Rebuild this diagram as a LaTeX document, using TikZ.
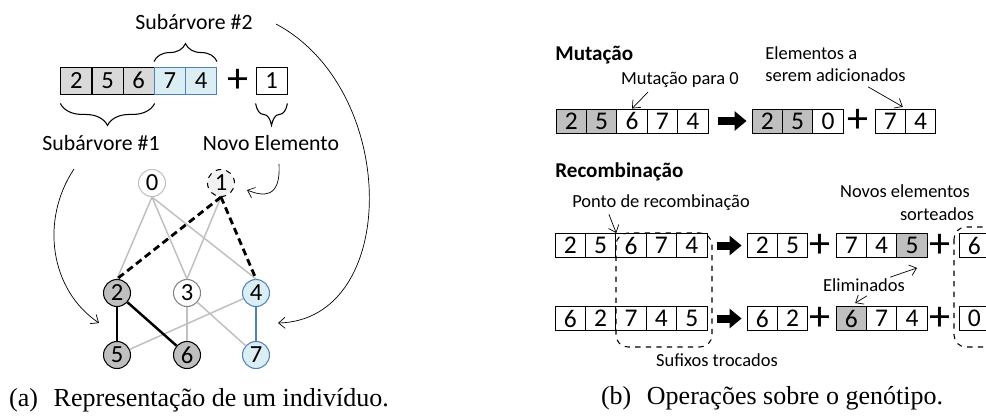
\documentclass[tikz,border=0pt]{standalone}
\usepackage{fontspec}
\setmainfont{Carlito}
\newfontfamily\capfont{Liberation Serif}
\usetikzlibrary{arrows.meta,decorations.pathreplacing,positioning}

\definecolor{cellgray}{HTML}{D9D9D9}
\definecolor{nodegray}{HTML}{BFBFBF}
\definecolor{lightblue}{HTML}{DBEEF4}
\definecolor{blueline}{HTML}{4F81BD}
\definecolor{edgegray}{HTML}{C0C0C0}

\tikzset{
    cell/.style={draw, line width=0.5pt, minimum width=0.62cm, minimum height=0.54cm, inner sep=0pt, font=\fontsize{14}{14}\selectfont},
    rcell/.style={draw, line width=0.5pt, minimum width=0.608cm, minimum height=0.48cm, inner sep=0pt, font=\fontsize{14.5}{14.5}\selectfont},
    vert/.style={shape=circle, draw, line width=0.6pt, minimum size=0.54cm, inner sep=0pt, font=\fontsize{14}{14}\selectfont},
    plus/.style={inner sep=0pt, font=\fontsize{24}{24}\selectfont},
    lbl/.style={inner sep=0pt, font=\fontsize{12.4}{13}\selectfont},
    note/.style={inner sep=0pt, font=\fontsize{10.5}{12.5}\selectfont},
    head/.style={inner sep=0pt, font=\fontsize{12}{13}\selectfont\bfseries},
    caption/.style={inner sep=0pt, font=\capfont\fontsize{14.8}{15}\selectfont},
    pointer/.style={line width=0.4pt, -{Straight Barb[length=0.13cm,width=0.22cm]}},
    fatarrow/.style={line width=0.16cm, -{Triangle[length=0.24cm,width=0.38cm]}, shorten <=0.2cm, shorten >=0.1cm},
    gedge/.style={edgegray, line width=0.85pt},
    brace/.style={decorate, line width=0.6pt},
    swapbox/.style={draw, dashed, line width=0.6pt, rounded corners=0.24cm}
}

\begin{document}
\begin{tikzpicture}[x=0.02cm, y=-0.02cm]
    \clip (0,0) rectangle (986,416);

    % (a) individuo
    \node[cell, fill=cellgray] (a1) at (76.3,80.5) {2};
    \node[cell, fill=cellgray] (a2) at (107.5,80.5) {5};
    \node[cell, fill=cellgray] (a3) at (138.7,80.5) {6};
    \node[cell, draw=blueline, fill=lightblue] (a4) at (169.9,80.5) {7};
    \node[cell, draw=blueline, fill=lightblue] (a5) at (201.1,80.5) {4};
    \node[plus] (aplus) at (238,81) {+};
    \node[cell] (anew) at (271.5,80.5) {1};

    \draw[brace, decoration={brace, amplitude=0.36cm, raise=0.1cm}] (a4.north west) -- (a5.north east);
    \draw[brace, decoration={brace, amplitude=0.44cm, raise=0.18cm}] (a3.south east) -- (a1.south west);
    \draw[brace, decoration={brace, amplitude=0.44cm, raise=0.18cm}] (anew.south east) -- (anew.south west);

    \node[lbl] (sub2) at (194,22) {Subárvore \#2};
    \node[lbl] (sub1) at (101,143) {Subárvore \#1};
    \node[lbl] (novo) at (271,143) {Novo Elemento};

    \node[vert, draw=nodegray] (0) at (152,183) {0};
    \node[vert, dashed, fill=black!5] (1) at (221,183) {1};
    \node[vert, fill=nodegray] (2) at (117,293) {2};
    \node[vert, draw=black!50] (3) at (187,293) {3};
    \node[vert, draw=blueline, fill=lightblue] (4) at (256,293) {4};
    \node[vert, fill=nodegray] (5) at (117,355) {5};
    \node[vert, fill=nodegray] (6) at (187,355) {6};
    \node[vert, draw=blueline, fill=lightblue] (7) at (256,355) {7};

    \path[gedge] (0.south) edge (2.north);
    \path[gedge] (0.south) edge (3.north);
    \path[gedge] (0.south) edge (4.north);
    \path[gedge] (1.south) edge (3.north);
    \path[gedge] (4) edge (5);
    \path[gedge] (3) edge (6);
    \path[gedge] (3) edge (7);
    \path[line width=1.6pt, dash pattern=on 4pt off 2.4pt] (1.south) edge (2.north);
    \path[line width=1.6pt, dash pattern=on 4pt off 2.4pt] (1.south) edge (4.north);
    \path[line width=1.4pt] (2) edge (5);
    \path[line width=1.4pt] (2) edge (6);
    \path[line width=1.4pt, blueline] (4) edge (7);

    \coordinate (t1) at (99,323);
    \coordinate (t2) at (278,323);
    \coordinate (t3) at (247,190);
    \draw[pointer] (sub1.south) ++(-27,18) .. controls (40,220) and (50,290) .. (t1);
    \draw[pointer] (sub2.east) ++(23,2) .. controls (400,90) and (400,320) .. (t2);
    \draw[pointer] (novo.south) ++(8,13) .. controls (281,200) and (262,196) .. (t3);

    \node[caption] (capa) at (199,400) {(a)\hspace{0.6em}Representação de um indivíduo.};

    % (b) mutacao
    \node[head, anchor=west] (mut) at (555,55) {Mutação};
    \node[note] (mut0) at (680,80) {Mutação para 0};
    \node[note, anchor=west, align=left] (elem) at (765,64) {Elementos a\\serem adicionados};

    \node[rcell, fill=nodegray] (m1) at (571.2,121) {2};
    \node[rcell, fill=nodegray] (m2) at (601.6,121) {5};
    \node[rcell] (m3) at (632,121) {6};
    \node[rcell] (m4) at (662.4,121) {7};
    \node[rcell] (m5) at (692.8,121) {4};
    \node[rcell, fill=nodegray] (n1) at (767.2,121) {2};
    \node[rcell, fill=nodegray] (n2) at (797.6,121) {5};
    \node[rcell] (n3) at (828,121) {0};
    \node[plus] (nplus) at (858,121) {+};
    \node[rcell] (n4) at (890.2,121) {7};
    \node[rcell] (n5) at (920.6,121) {4};

    \draw[fatarrow] (m5.east) -- (n1.west);
    \draw[pointer] (mut0.south) ++(-32,4) -- (m3.north);
    \draw[pointer, shorten >=2pt] (elem.south west) ++(103,5) -- (n4.north east);

    % (b) recombinacao
    \node[head, anchor=west] (rec) at (555,172) {Recombinação};
    \node[note] (ponto) at (661,203) {Ponto de recombinação};
    \node[note] (novos) at (905,191) {Novos elementos};
    \node[note] (sort) at (937,214) {sorteados};

    \node[rcell] (p1) at (570.2,245.5) {2};
    \node[rcell] (p2) at (600.6,245.5) {5};
    \node[rcell] (p3) at (631,245.5) {6};
    \node[rcell] (p4) at (661.4,245.5) {7};
    \node[rcell] (p5) at (691.8,245.5) {4};
    \node[rcell] (q1) at (570.2,318.5) {6};
    \node[rcell] (q2) at (600.6,318.5) {2};
    \node[rcell] (q3) at (631,318.5) {7};
    \node[rcell] (q4) at (661.4,318.5) {4};
    \node[rcell] (q5) at (691.8,318.5) {5};

    \node[rcell] (pa1) at (762.2,245.5) {2};
    \node[rcell] (pa2) at (792.6,245.5) {5};
    \node[plus] (pplus1) at (820,245.5) {+};
    \node[rcell] (pb1) at (851.2,245.5) {7};
    \node[rcell] (pb2) at (881.6,245.5) {4};
    \node[rcell, fill=nodegray] (pb3) at (912,245.5) {5};
    \node[plus] (pplus2) at (940,245.5) {+};
    \node[rcell] (pc1) at (974.2,245.5) {6};

    \node[rcell] (qa1) at (762.2,318.5) {6};
    \node[rcell] (qa2) at (792.6,318.5) {2};
    \node[plus] (qplus1) at (820,318.5) {+};
    \node[rcell, fill=nodegray] (qb1) at (851.2,318.5) {6};
    \node[rcell] (qb2) at (881.6,318.5) {7};
    \node[rcell] (qb3) at (912,318.5) {4};
    \node[plus] (qplus2) at (940,318.5) {+};
    \node[rcell] (qc1) at (974.2,318.5) {0};

    \draw[fatarrow] (p5.east) -- (pa1.west);
    \draw[fatarrow] (q5.east) -- (qa1.west);

    \draw[swapbox] (616,233) rectangle (712,347);
    \draw[swapbox] (954,227) rectangle (1015,347);
    \node[note] (suf) at (717,360) {Sufixos trocados};
    \node[note] (elim) at (864,285) {Eliminados};

    \draw[pointer] (ponto.south west) ++(37,3) -- (p2.north east);
    \draw[pointer] (elim.north east) ++(-15,-1) -- ([shift={(5,10)}]pb3.south);
    \draw[pointer] (elim.south) ++(3,4) -- ([shift={(4,-3)}]qb1.north);

    \node[caption] (capb) at (772,398) {(b)\hspace{0.6em}Operações sobre o genótipo.};
\end{tikzpicture}
\end{document}
